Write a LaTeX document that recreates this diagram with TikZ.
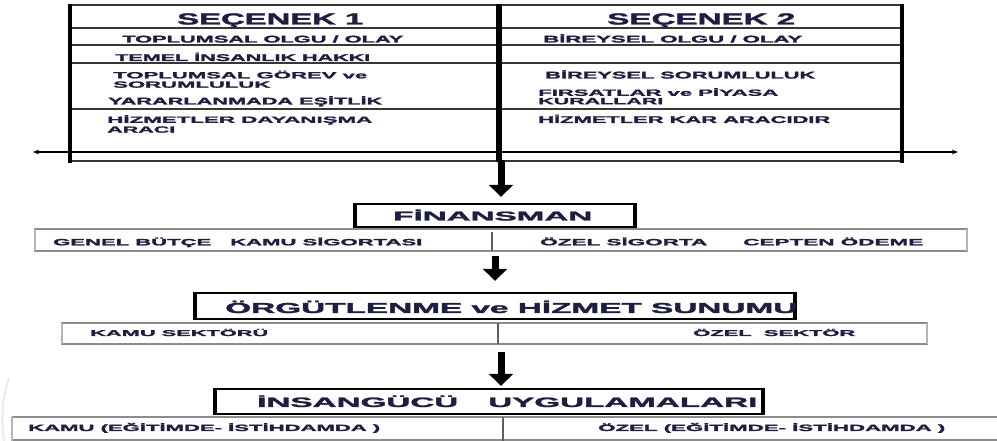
\documentclass[tikz,border=0pt]{standalone}
\usepackage{fontspec}
\setmainfont{Liberation Sans}
\newfontfamily\capfont[FakeBold=1.6]{Liberation Sans Bold}
\usepackage{graphicx}
\usetikzlibrary{arrows.meta}

\definecolor{ink}{RGB}{28,30,66}
\definecolor{rowgray}{RGB}{140,140,140}
\definecolor{sidegray}{RGB}{180,180,180}
\definecolor{rulegray}{RGB}{55,55,55}

% one drawing unit = one pixel
\newdimen\pxu \pxu=0.75pt
% heavy caption stretched to a given width (px) at a given size (pt)
\newcommand\fitw[3]{\resizebox{#1\pxu}{\height}{\fontsize{#2pt}{#2pt}\selectfont\capfont #3}}

\begin{document}
\begin{tikzpicture}[x=0.75pt,y=-0.75pt,
  txt/.style={inner sep=0pt,text=ink,anchor=base west},
  rule/.style={draw=rulegray,line width=1.5pt},
  frame/.style={draw=black,line width=3pt},
  divider/.style={draw=black,line width=4.5pt},
  axisline/.style={draw=black,line width=0.9pt,{Stealth[length=4.5pt,width=3.5pt]}-{Stealth[length=4.5pt,width=3.5pt]}},
  bigarrow/.style={draw=black,line width=5.25pt,-{Triangle[width=17.5pt,length=9pt]}},
  boxline/.style={draw=black,line width=1.5pt},
  boxside/.style={draw=black,line width=3.2pt},
  rowline/.style={draw=rowgray,line width=0.9pt},
  rowside/.style={draw=sidegray,line width=2.2pt},
  rowdiv/.style={draw=rulegray!80,line width=1.4pt}]

\fill[white] (0,0) rectangle (997,441);
\useasboundingbox (0,0) rectangle (997,441);

% ---------- comparison table ----------
\draw[rule] (70,5) -- (902,5);
\foreach \yy in {28,45,63,109} \draw[rule] (70,\yy) -- (902,\yy);
\draw[rule] (70,161) -- (902,161);
\draw[axisline] (33,152) -- (958,152);
\draw[frame] (70,4) -- (70,163);
\draw[frame] (902,4) -- (902,163);
\draw[divider] (499,4) -- (499,162);

\node[txt] (h1) at (177,24.5) {\fitw{186}{12}{SEÇENEK 1}};
\node[txt] (h2) at (607,24.5) {\fitw{188}{12}{SEÇENEK 2}};

\node[txt] (l1)  at (122,42.5) {\fitw{281}{7.3}{TOPLUMSAL OLGU / OLAY}};
\node[txt] (l2)  at (115,61)   {\fitw{255}{7.3}{TEMEL İNSANLIK HAKKI}};
\node[txt] (l3a) at (113,78.3) {\fitw{254}{6.7}{TOPLUMSAL GÖREV ve}};
\node[txt] (l3b) at (113,87.7) {\fitw{157}{6.7}{SORUMLULUK}};
\node[txt] (l4)  at (108,104.5){\fitw{274}{7.3}{YARARLANMADA EŞİTLİK}};
\node[txt] (l5a) at (107,122.8){\fitw{265}{6.7}{HİZMETLER DAYANIŞMA}};
\node[txt] (l5b) at (107,132.7){\fitw{68}{6.7}{ARACI}};

\node[txt] (r1)  at (543,42.5) {\fitw{259}{7.3}{BİREYSEL OLGU / OLAY}};
\node[txt] (r3)  at (545,78.5) {\fitw{270}{7.3}{BİREYSEL SORUMLULUK}};
\node[txt] (r4a) at (538,95.8) {\fitw{240}{6.7}{FIRSATLAR ve PİYASA}};
\node[txt] (r4b) at (538,104.2){\fitw{125}{6.7}{KURALLARI}};
\node[txt] (r5)  at (538,123)  {\fitw{292}{7.3}{HİZMETLER KAR ARACIDIR}};

% ---------- FİNANSMAN ----------
\draw[boxline] (355,204) rectangle (635,227);
\draw[boxside] (355,203) -- (355,228) (635,203) -- (635,228);
\node[txt] (fin) at (393,220.5) {\fitw{199}{9.6}{FİNANSMAN}};

\draw[rowline] (35,229) rectangle (967,251);
\draw[rowside] (35,229) -- (35,251) (967,229) -- (967,251);
\draw[rowdiv] (492,232) -- (492,251);
\node[txt] (f1) at (53,245.3)  {\fitw{158}{6.8}{GENEL BÜTÇE}};
\node[txt] (f2) at (230,245.3) {\fitw{192}{6.8}{KAMU SİGORTASI}};
\node[txt] (f3) at (540,245.3) {\fitw{167}{6.8}{ÖZEL SİGORTA}};
\node[txt] (f4) at (743,245.3) {\fitw{180}{6.8}{CEPTEN ÖDEME}};

% ---------- ÖRGÜTLENME ----------
\draw[boxline] (195,293) rectangle (795,319);
\draw[boxside] (195,292) -- (195,320) (795,292) -- (795,320);
\node[txt] (org) at (225,313) {\fitw{572}{10.8}{ÖRGÜTLENME ve HİZMET SUNUMU}};

\draw[rowline] (62,323) rectangle (927,344);
\draw[rowside] (62,323) -- (62,344) (927,323) -- (927,344);
\draw[rowdiv] (498,323) -- (498,344);
\node[txt] (o1) at (90,336)  {\fitw{178}{6.3}{KAMU SEKTÖRÜ}};
\node[txt] (o2) at (693,336) {\fitw{162}{6.3}{ÖZEL\ \ SEKTÖR}};

% ---------- İNSANGÜCÜ ----------
\draw[boxline] (215,389) rectangle (763,414);
\draw[boxside] (215,388) -- (215,415) (763,388) -- (763,415);
\node[txt] (ins1) at (257,407) {\fitw{201}{10.2}{İNSANGÜCÜ}};
\node[txt] (ins2) at (488,407) {\fitw{269}{10.2}{UYGULAMALARI}};

\draw[rowline] (12,417) -- (1000,417) (12,440) -- (1000,440);
\draw[rowside] (12,417) -- (12,441);
\draw[rowdiv] (503,417) -- (503,441);
\node[txt] (k1) at (28,431)  {\fitw{352}{6.8}{KAMU (EĞİTİMDE- İSTİHDAMDA )}};
\node[txt] (k2) at (598,431) {\fitw{347}{6.8}{ÖZEL (EĞİTİMDE- İSTİHDAMDA )}};

% ---------- flow arrows ----------
\coordinate (a1s) at (501,160);
\coordinate (a1e) at (501,197);
\coordinate (a2s) at (495,256);
\coordinate (a2e) at (495,281);
\coordinate (a3s) at (501,352);
\coordinate (a3e) at (501,386);
\draw[bigarrow] (a1s) -- (a1e);
\draw[bigarrow] (a2s) -- (a2e);
\draw[bigarrow] (a3s) -- (a3e);

% faint edge at the lower left
\draw[black!8,line width=1.5pt] (9,378) .. controls (2,398) and (1,420) .. (4,441);
\end{tikzpicture}
\end{document}
